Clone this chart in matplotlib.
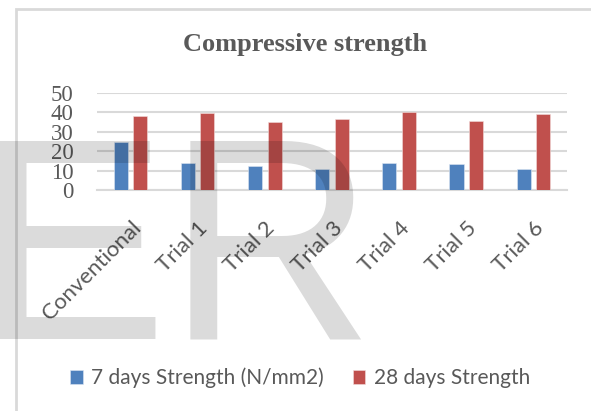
import numpy as np
import matplotlib.pyplot as plt
from matplotlib.patches import Rectangle

categories = ['Conventional', 'Trial 1', 'Trial 2', 'Trial 3', 'Trial 4', 'Trial 5', 'Trial 6']
strength_7 = [25.0, 13.9, 12.5, 10.6, 13.9, 13.2, 10.6]
strength_28 = [38.2, 39.6, 34.8, 36.8, 40.2, 35.8, 39.0]
yticks = [0, 10, 20, 30, 40, 50]

W, H = 591, 411
fig = plt.figure(figsize=(W / 100, H / 100), dpi=100)
ax = fig.add_axes([97 / W, 1 - 190 / H, 470 / W, 97 / H])

x = np.arange(len(categories))
bw = 0.21
ax.bar(x - 0.145, strength_7, bw, color='#4F81BD', edgecolor='#dce6f2', linewidth=0.4,
       label='7 days Strength (N/mm2)', zorder=3)
ax.bar(x + 0.145, strength_28, bw, color='#C0504D', edgecolor='#f2dcdb', linewidth=0.4,
       label='28 days Strength', zorder=3)

ax.set_xlim(-0.5, len(categories) - 0.5)
ax.set_ylim(0, 50)
ax.set_yticks(yticks)
ax.set_yticklabels([str(v) for v in yticks], family='Liberation Serif', fontsize=16.5, color='#595959')
ax.yaxis.grid(True, color='#d9d9d9', linewidth=1.5, zorder=0)
ax.tick_params(axis='y', length=0, pad=17)
ax.tick_params(axis='x', length=0, pad=20)
ax.set_xticks(x)
ax.set_xticklabels(categories, rotation=45, ha='right', rotation_mode='anchor',
                   family='Lato', fontsize=16, color='#595959')
for s in ['top', 'right', 'left']:
    ax.spines[s].set_visible(False)
ax.spines['bottom'].set_color('#d9d9d9')
ax.spines['bottom'].set_linewidth(1.5)

fig.text(305 / W, 1 - 45 / H, 'Compressive strength', ha='center', va='center',
         family='Liberation Serif', fontweight='bold', fontsize=19, color='#595959')

fig.legend(loc='center', bbox_to_anchor=(300 / W, 1 - 378 / H), ncol=2, frameon=False,
           prop={'family': 'Lato', 'size': 15}, labelcolor='#595959',
           handlelength=0.6, handleheight=0.6, handletextpad=0.4, columnspacing=1.4)

# chart frame
fig.patches.append(Rectangle((16 / W, -0.1), 1.2, 1 - 9 / H + 0.1, transform=fig.transFigure,
                             fill=False, edgecolor='#d9d9d9', linewidth=2, zorder=0))

# watermark
fig.text(-25 / W, 1 - 338 / H, 'ER', ha='left', va='baseline', family='Liberation Sans',
         fontsize=207, color='black', alpha=0.14, zorder=10)

fig.savefig('out.png', dpi=100)
